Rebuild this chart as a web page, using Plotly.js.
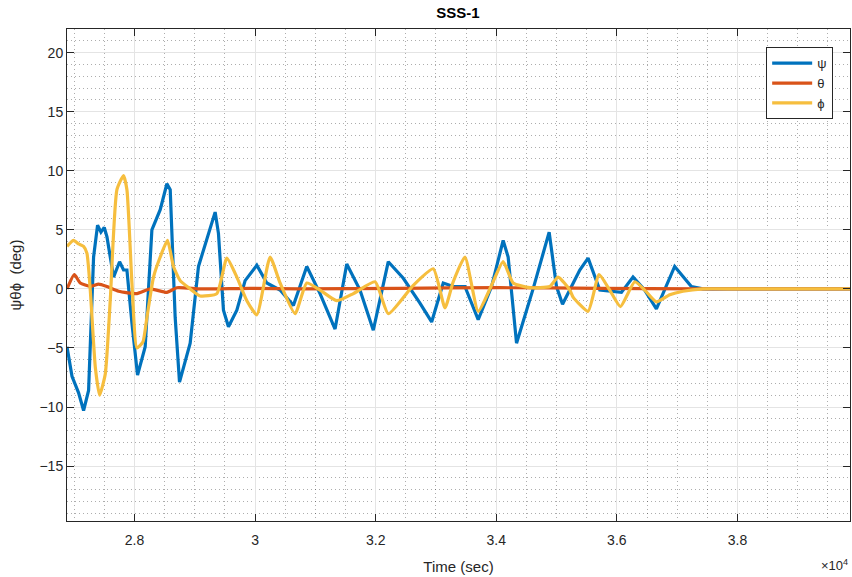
<!DOCTYPE html>
<html>
<head>
<meta charset="utf-8">
<script src="https://cdn.plot.ly/plotly-3.0.1.min.js"></script>
<style>html,body{margin:0;padding:0;background:#fff;}#chart{width:852px;height:577px;}</style>
</head>
<body>
<div id="chart"></div>
<script>
// ψ (psi)
const tPsi = [26880,26963,27072,27155,27238,27321,27387,27443,27498,27543,27652,27752,27818,27874,27957,28050,28177,28288,28426,28537,28592,28674,28746,28923,29061,29337,29392,29475,29558,29697,29834,30028,30194,30360,30414,30635,30857,31077,31326,31520,31740,31960,32209,32458,32734,32928,33120,33286,33480,33700,33922,34114,34197,34336,34611,34877,34999,35099,35274,35385,35523,35717,36076,36268,36462,36656,36959,37236,37428,38000,39000,39870];
const psi  = [-4.9,-7.4,-8.8,-10.3,-8.6,2.7,5.4,4.8,5.2,4.4,1.0,2.3,1.6,1.6,-2.9,-7.3,-4.9,5.0,6.7,8.9,8.4,-2.4,-7.9,-4.6,1.9,6.5,4.7,-1.8,-3.2,-1.8,0.7,2.0,0.5,0.0,-0.1,-1.4,1.9,-0.4,-3.4,2.1,-0.1,-3.5,2.3,0.9,-1.2,-2.8,0.5,0.2,0.2,-2.6,0.2,4.1,2.7,-4.6,0.0,4.8,0.2,-1.3,0.5,1.6,2.6,-0.1,-0.3,1.0,-0.1,-1.7,1.9,0.2,0.0,0.0,0.0,0.0];
// θ (theta)
const tTheta = [26880,27001,27100,27266,27404,27543,27735,28040,28260,28537,28703,29090,29918,30746,32403,34060,35717,37374,38500,39870];
const theta  = [0.0,1.2,0.5,0.2,0.4,0.2,-0.2,-0.4,0.0,-0.3,0.1,0.0,0.05,0.0,0.05,0.1,0.05,0.0,0.0,0.0];
// ϕ (phi)
const tPhi = [26880,26989,27072,27155,27211,27266,27349,27420,27515,27597,27708,27818,27874,27957,28040,28139,28206,28315,28426,28547,28646,28757,28923,29089,29366,29531,29697,29863,30028,30249,30414,30663,30857,31077,31354,31629,31989,32209,32623,32955,33149,33286,33480,33700,33922,34114,34280,34557,34888,35026,35220,35274,35523,35705,35882,36060,36297,36462,36656,36877,37097,37428,38000,39000,39870];
const phi  = [3.6,4.1,3.8,3.6,3.0,-0.1,-6.6,-9.0,-7.2,-1.0,8.4,9.6,8.4,0.5,-5.0,-4.5,-2.4,1.0,2.7,4.1,1.9,0.7,0.0,-0.6,-0.4,2.6,1.0,-1.0,-2.2,2.7,0.5,-2.1,0.5,-0.1,-1.0,-0.4,0.6,-2.1,0.3,1.7,-1.6,0.6,2.7,-1.9,0.3,2.3,0.5,0.1,0.2,1.0,-0.1,-0.7,-1.9,1.2,-0.1,-1.5,0.6,-0.1,-1.1,-0.5,-0.2,0.0,0.0,0.0,0.0];

const xTickVals = [28000,30000,32000,34000,36000,38000];
const xTickText = ['2.8','3','3.2','3.4','3.6','3.8'];
const seriesNames = ['ψ','θ','ϕ'];

const ink = '#262626';
const font = 'Liberation Sans, Arial, sans-serif';
const traces = [
  {x:tPsi, y:psi, name:seriesNames[0], mode:'lines', line:{color:'#0072BD', width:3.2}},
  {x:tTheta, y:theta, name:seriesNames[1], mode:'lines', line:{color:'#D95319', width:3.2, shape:'spline', smoothing:0.5}},
  {x:tPhi, y:phi, name:seriesNames[2], mode:'lines', line:{color:'#F6BE3E', width:3.2, shape:'spline', smoothing:0.5}}
];

const minorGrid = {showgrid:true, griddash:'1px,3px', gridcolor:'rgba(0,0,0,0.32)', gridwidth:1, ticks:''};
const axisCommon = {
  showline:true, linecolor:ink, linewidth:1, mirror:'ticks',
  ticks:'inside', ticklen:7, tickcolor:ink, tickwidth:1,
  showgrid:true, gridcolor:'#e4e4e4', gridwidth:1, zeroline:false,
  tickfont:{family:font, size:14, color:ink}
};

const layout = {
  width:852, height:577,
  margin:{l:67, r:2, t:29, b:56},
  paper_bgcolor:'#fff', plot_bgcolor:'#fff',
  title:{text:'<b>SSS-1</b>', font:{family:font, size:15, color:'#000'}, x:0.5375, xanchor:'center', y:0.978, yanchor:'middle'},
  xaxis:Object.assign({}, axisCommon, {
    range:[26880,39867], tickvals:xTickVals, ticktext:xTickText, ticklabelstandoff:6,
    minor:Object.assign({dtick:500, tick0:26000}, minorGrid),
    title:{text:'Time (sec)', font:{family:font, size:15, color:ink}, standoff:14}
  }),
  yaxis:Object.assign({}, axisCommon, {
    range:[-19.65,22], dtick:5, tick0:0,
    minor:Object.assign({dtick:1, tick0:0}, minorGrid),
    title:{text:'ψθϕ  (deg)', font:{family:font, size:15, color:ink}, standoff:14}
  }),
  showlegend:true,
  legend:{x:0.9785, xanchor:'right', y:0.963, yanchor:'top', bgcolor:'#fff', bordercolor:ink, borderwidth:1,
          font:{family:font, size:13, color:ink}, itemwidth:40, tracegroupgap:0},
  annotations:[{text:'×10<sup>4</sup>', xref:'paper', yref:'paper', x:1.0, xanchor:'right', y:-0.09, yanchor:'middle', showarrow:false,
    font:{family:font, size:13, color:ink}}]
};

Plotly.newPlot('chart', traces, layout, {displayModeBar:false, staticPlot:true});
</script>
</body>
</html>
